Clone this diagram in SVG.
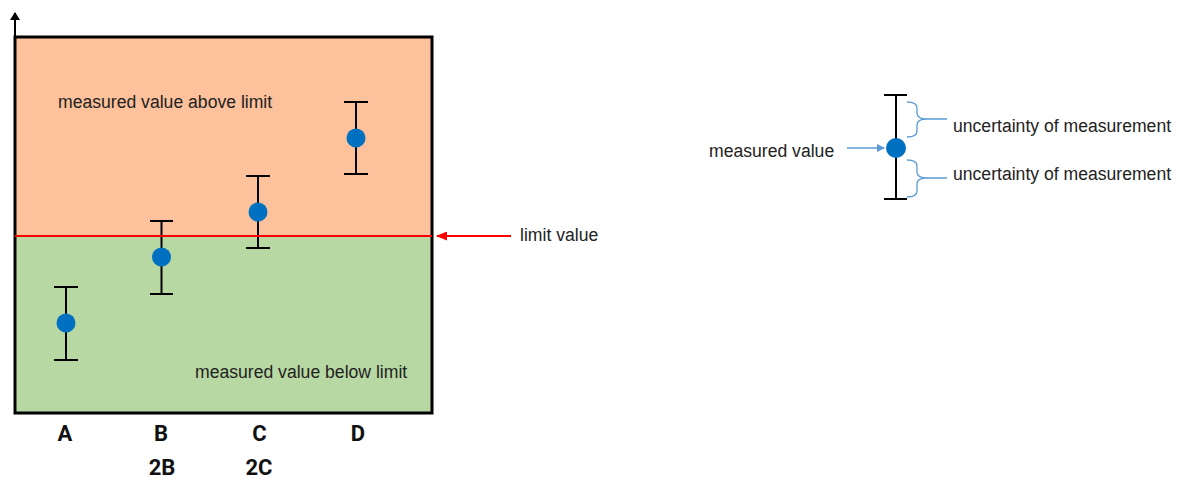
<svg xmlns="http://www.w3.org/2000/svg" width="1183" height="480" viewBox="0 0 1183 480">
<defs>
<style>
.t{font-family:"Liberation Sans",Arial,sans-serif;font-size:17.6px;fill:#222}
.lbl{font-family:Roboto,"Liberation Sans",sans-serif;font-size:22px;font-weight:bold;fill:#111;text-anchor:middle}
.eb{stroke:#000;stroke-width:2;fill:none}
.dot{fill:#0070C0}
.br{stroke:#5B9BD5;stroke-width:1.3;fill:none}
</style>
<marker id="ak" markerWidth="8" markerHeight="10" refX="7" refY="5" orient="auto" markerUnits="userSpaceOnUse"><path d="M0,0 L8,5 L0,10 Z" fill="#000"/></marker>
<marker id="ar" markerWidth="11" markerHeight="9" refX="10" refY="4.5" orient="auto" markerUnits="userSpaceOnUse"><path d="M0,0 L11,4.5 L0,9 Z" fill="#f00"/></marker>
<marker id="ab" markerWidth="8" markerHeight="8" refX="7" refY="4" orient="auto" markerUnits="userSpaceOnUse"><path d="M0,0 L8,4 L0,8 Z" fill="#5B9BD5"/></marker>
</defs>
<g id="chart">
<rect x="15" y="37" width="417" height="199" fill="#FDC19B"/>
<rect x="15" y="236" width="417" height="177" fill="#B8D8A3"/>
<rect x="15" y="37" width="417" height="376" fill="none" stroke="#000" stroke-width="3"/>
<line x1="15" y1="37" x2="15" y2="13" stroke="#000" stroke-width="2" marker-end="url(#ak)"/>
<text class="t" x="58" y="108">measured value above limit</text>
<text class="t" x="195" y="378">measured value below limit</text>
</g>
<g id="point-A"><path class="eb" d="M54,287H78M66,287V360M54,360H78"/><circle class="dot" cx="66" cy="323" r="9.5"/></g>
<g id="point-B"><path class="eb" d="M150,221H173M161.5,221V294M150,294H173"/><circle class="dot" cx="161.5" cy="257" r="9.5"/></g>
<g id="point-C"><path class="eb" d="M246,176H270M258,176V248M246,248H270"/><circle class="dot" cx="258" cy="212" r="9.5"/></g>
<g id="point-D"><path class="eb" d="M344,102H368M356,102V174M344,174H368"/><circle class="dot" cx="356" cy="138" r="9.5"/></g>
<g id="connectors">
<line x1="15" y1="236" x2="432" y2="236" stroke="#f00" stroke-width="2"/>
<line x1="511" y1="236" x2="437" y2="236" stroke="#f00" stroke-width="2" marker-end="url(#ar)"/>
<line x1="847" y1="148" x2="884" y2="148" stroke="#5B9BD5" stroke-width="1.3" marker-end="url(#ab)"/>
</g>
<g id="limit-label"><text class="t" x="520" y="241">limit value</text></g>
<g id="axis-labels">
<text class="lbl" x="65" y="441">A</text>
<text class="lbl" x="161" y="441">B</text>
<text class="lbl" x="259.5" y="441">C</text>
<text class="lbl" x="358" y="441">D</text>
<text class="lbl" x="162" y="475">2B</text>
<text class="lbl" x="259" y="475">2C</text>
</g>
<g id="legend">
<path class="eb" d="M884,95H907M896,95V199M884,199H907"/>
<circle class="dot" cx="896" cy="148" r="10"/>
<text class="t" x="709" y="157">measured value</text>
<path class="br" d="M907,102 Q917,102 917,108 V113 Q917,119 927,119 H947 M927,119 Q917,119 917,125 V131 Q917,137 907,137"/>
<path class="br" d="M907,160 Q917,160 917,166 V172 Q917,178 927,178 H947 M927,178 Q917,178 917,184 V191 Q917,197 907,197"/>
<text class="t" x="953" y="132">uncertainty of measurement</text>
<text class="t" x="953" y="180">uncertainty of measurement</text>
</g>
</svg>
